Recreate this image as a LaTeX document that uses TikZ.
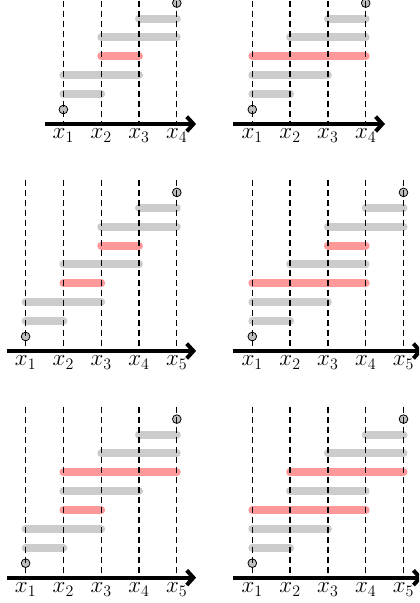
\documentclass[tikz,border=0pt]{standalone}
\usetikzlibrary{arrows.meta}
\definecolor{bargray}{HTML}{CCCCCC}
\definecolor{barred}{HTML}{FF9999}
\newcommand{\mypanel}[5]{%
 \foreach \r/\a/\b/\c in {#5}{%
   \draw[bar, draw=\c] ({#2+(\a-1)*37.8},{#3-30-(\r-1)*18.85}) -- ({#2+(\b-1)*37.8},{#3-30-(\r-1)*18.85});
 }
 \node[endpt] (#1lo) at ({#2},{#3-14.5}) {};
 \node[endpt] (#1hi) at ({#2+(#4-1)*37.8},{#3-30-(2*#4-4)*18.85-15.5}) {};
 \foreach \i in {1,...,#4}{%
   \draw[vline] ({#2+(\i-1)*37.8},{#3-30-(2*#4-4)*18.85-28}) -- ({#2+(\i-1)*37.8},{#3});
 }
 \draw[axis] ({#2-18.9},{#3}) -- ({#2+(#4-1)*37.8+19.3},{#3});
 \foreach \i in {1,...,#4}{%
   \node[lab] (#1x\i) at ({#2+(\i-1)*37.8},{#3}) {$x_{\i}$};
 }
}
\begin{document}
\begin{tikzpicture}[x=0.75pt,y=-0.75pt,
  bar/.style={line width=6pt, line cap=round},
  vline/.style={line width=1pt, dash pattern=on 4.5pt off 3pt},
  axis/.style={line width=3pt, -{Straight Barb[length=5pt,width=11pt]}},
  endpt/.style={circle, draw, line width=0.6pt, fill=gray!50, inner sep=0pt, minimum size=6.5pt},
  lab/.style={below, inner sep=3.5pt, font=\fontsize{16.5}{19}\selectfont}]
\useasboundingbox (0,0) rectangle (419,603);
\clip (0,0) rectangle (419,603);
\mypanel{a}{63.4}{124}{4}{1/1/2/bargray, 2/1/3/bargray, 3/2/3/barred, 4/2/4/bargray, 5/3/4/bargray}
\mypanel{b}{252.3}{124}{4}{1/1/2/bargray, 2/1/3/bargray, 3/1/4/barred, 4/2/4/bargray, 5/3/4/bargray}
\mypanel{c}{25.6}{351}{5}{1/1/2/bargray, 2/1/3/bargray, 3/2/3/barred, 4/2/4/bargray, 5/3/4/barred, 6/3/5/bargray, 7/4/5/bargray}
\mypanel{d}{252.3}{351}{5}{1/1/2/bargray, 2/1/3/bargray, 3/1/4/barred, 4/2/4/bargray, 5/3/4/barred, 6/3/5/bargray, 7/4/5/bargray}
\mypanel{e}{25.6}{577.7}{5}{1/1/2/bargray, 2/1/3/bargray, 3/2/3/barred, 4/2/4/bargray, 5/2/5/barred, 6/3/5/bargray, 7/4/5/bargray}
\mypanel{f}{252.3}{577.7}{5}{1/1/2/bargray, 2/1/3/bargray, 3/1/4/barred, 4/2/4/bargray, 5/2/5/barred, 6/3/5/bargray, 7/4/5/bargray}
\end{tikzpicture}
\end{document}
